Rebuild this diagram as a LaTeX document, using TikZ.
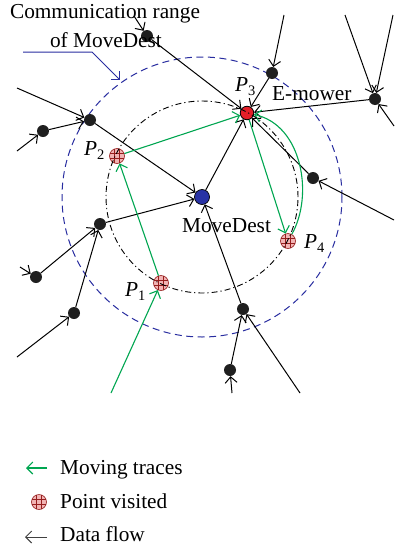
\documentclass[tikz,border=0pt]{standalone}
\usepackage{fontspec}
\setmainfont{Liberation Serif}
\usetikzlibrary{arrows.meta}
\definecolor{trace}{RGB}{0,166,81}
\definecolor{rangeblue}{RGB}{40,45,160}
\definecolor{mdblue}{RGB}{40,50,165}
\definecolor{mower}{RGB}{228,30,40}
\definecolor{pvfill}{RGB}{242,180,180}
\definecolor{pvline}{RGB}{150,30,30}
\newcommand\Plab[1]{\textit{P}\raisebox{-4.5pt}{\fontsize{14.5}{14.5}\selectfont #1}}
\begin{document}
\begin{tikzpicture}[x=1pt,y=-1pt,
  txt/.style={font=\fontsize{21.3}{24}\selectfont, inner sep=0pt},
  dot/.style={circle, fill=black!88, inner sep=0pt, minimum size=12pt},
  pv/.style={circle, inner sep=0pt, minimum size=15pt, fill=pvfill, draw=pvline, line width=0.6pt,
    path picture={\foreach \q in {-2.6pt,2.6pt}{
      \draw[pvline,line width=1pt] ([xshift=\q]path picture bounding box.north) -- ([xshift=\q]path picture bounding box.south);
      \draw[pvline,line width=1pt] ([yshift=\q]path picture bounding box.west) -- ([yshift=\q]path picture bounding box.east);}}},
  flow/.style={draw=black, line width=1pt, -{Straight Barb[length=6pt,width=12pt]}},
  move/.style={draw=trace, line width=1.1pt, -{Straight Barb[length=6pt,width=12pt]}},
  rangecirc/.style={draw=rangeblue, line width=1pt, dash pattern=on 7pt off 4.5pt},
  orbit/.style={draw=black, line width=0.9pt, dash pattern=on 6pt off 3pt on 1.2pt off 3pt},
]
\useasboundingbox (0,0) rectangle (394,552);
\fill[white] (0,0) rectangle (394,552);

\coordinate (c) at (202,197);
\draw[rangecirc] (c) circle[radius=140pt];

% nodes
\node[circle, fill=mdblue, draw=black, line width=0.7pt, minimum size=15pt, inner sep=0pt] (md) at (c) {};
\node[circle, fill=mower, draw=black, line width=0.8pt, minimum size=13.5pt, inner sep=0pt] (p3) at (247,113) {};
\node[pv] (p1) at (161,283) {};
\node[pv] (p2) at (117,156) {};
\node[pv] (p4) at (288,241) {};

\node[dot] (d1) at (147,36) {};
\node[dot] (d2) at (272,73) {};
\node[dot] (d3) at (375,99) {};
\node[dot] (d4) at (313,178) {};
\node[dot] (d5) at (90,120) {};
\node[dot] (d6) at (43,131) {};
\node[dot] (d7) at (100,224) {};
\node[dot] (d8) at (36,277) {};
\node[dot] (d9) at (74,313) {};
\node[dot] (d10) at (243,309) {};
\node[dot] (d11) at (230,370) {};

% free ends
\coordinate (e1) at (134,16);
\coordinate (e2) at (284,15);
\coordinate (e3) at (345,15);
\coordinate (e4) at (393,15);
\coordinate (e5) at (394,126);
\coordinate (e6) at (394,220);
\coordinate (e7) at (17,88);
\coordinate (e8) at (17,151);
\coordinate (e9) at (20,267);
\coordinate (e10) at (17,357);
\coordinate (e11) at (300,393);
\coordinate (e12) at (232,393);
\coordinate (g0) at (111,393);

% data flow
\draw[flow] (e1) -- (d1);
\draw[flow] (d1) -- (p3);
\draw[flow] (e2) -- (d2);
\draw[flow] (d2) -- (p3);
\draw[flow] (e3) -- (d3);
\draw[flow] (e4) -- (d3);
\draw[flow] (e5) -- (d3);
\draw[flow] (d3) -- (p3);
\draw[flow] (e6) -- (d4);
\draw[flow] (d4) -- (p3);
\draw[flow] (md) -- (p3);
\draw[flow] (e7) -- (d5);
\draw[flow] (e8) -- (d6);
\draw[flow] (d6) -- (d5);
\draw[flow] (d5) -- (md);
\draw[flow] (d7) -- (md);
\draw[flow] (e9) -- (d8);
\draw[flow] (d8) -- (d7);
\draw[flow] (e10) -- (d9);
\draw[flow] (d9) -- (d7);
\draw[flow] (d10) -- (md);
\draw[flow] (d11) -- (d10);
\draw[flow] (e11) -- (d10);
\draw[flow] (e12) -- (d11);

% moving traces
\draw[move] (g0) -- (p1);
\draw[move] (p1) -- (p2);
\draw[move] (p2) -- (p3);
\draw[move] (p3) -- (p4);
\draw[move] (p4) .. controls (314,195) and (302,125) .. (p3);

% orbit through visited points
\draw[orbit] (c) circle[radius=96pt];

% range pointer
\coordinate (r0) at (23,52);
\coordinate (r1) at (92,52);
\coordinate (r2) at (120,80);
\draw[draw=rangeblue, line width=1pt, -{Straight Barb[length=6pt,width=12pt]}] (r0) -- (r1) -- (r2);

% labels
\node[txt, anchor=base] (t1) at (105,18) {Communication range};
\node[txt, anchor=base] (t2) at (106,47) {of MoveDest};
\node[txt, anchor=base west] (lp3) at (235,91) {\Plab{3}};
\node[txt, anchor=base west] (lp2) at (84,155) {\Plab{2}};
\node[txt, anchor=base west] (lp4) at (304,248) {\Plab{4}};
\node[txt, anchor=base west] (lp1) at (125,296) {\Plab{1}};
\node[txt, anchor=base west] (lem) at (272,100) {E-mower};
\node[txt, anchor=base west] (lmd) at (182,232) {MoveDest};

% legend
\coordinate (la1) at (47,468);
\coordinate (lb1) at (26,468);
\draw[move] (la1) -- (lb1);
\node[txt, anchor=base west] (lg1) at (60,474) {Moving traces};
\node[pv] (lgp) at (39,502) {};
\node[txt, anchor=base west] (lg2) at (60,508.5) {Point visited};
\coordinate (la3) at (47,537);
\coordinate (lb3) at (25,537);
\draw[flow, draw=black!75] (la3) -- (lb3);
\node[txt, anchor=base west] (lg3) at (60,541.5) {Data flow};
\end{tikzpicture}
\end{document}
